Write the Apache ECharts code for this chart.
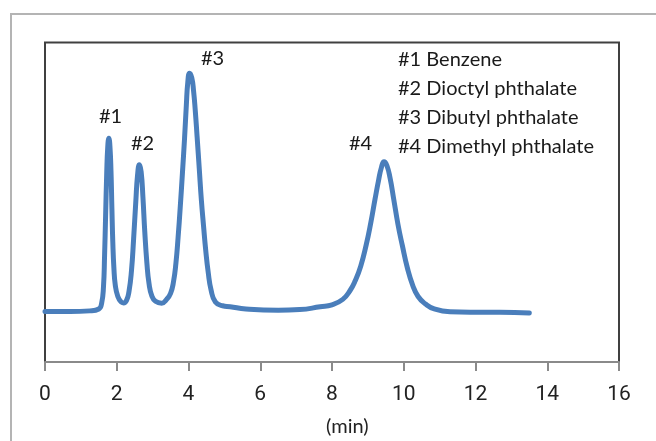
<!DOCTYPE html>
<html>
  <head>
    <meta charset="utf-8" />
    <title>Chromatogram</title>
    <script src="https://cdn.jsdelivr.net/npm/echarts@6/dist/echarts.min.js"></script>
  </head>
  <body style="margin:0;background:#fff;">
    <div id="main" style="width:656px;height:441px;"></div>
    <script type="text/javascript">
      // retention time (min)
      const time = [
        0, 0.7, 1.25, 1.5, 1.58, 1.63, 1.66, 1.69, 1.72, 1.75, 1.78, 1.81, 1.84, 1.865, 1.89, 1.92, 1.96, 2.03, 2.12, 2.19,
        2.27, 2.34, 2.41, 2.47, 2.53, 2.58, 2.63, 2.68, 2.73, 2.78, 2.84, 2.9, 2.98, 3.08, 3.25,
        3.39, 3.5, 3.58, 3.65, 3.71, 3.77, 3.83, 3.89, 3.94, 3.98, 4.03,
        4.09, 4.14, 4.19, 4.24, 4.3, 4.36, 4.42, 4.48, 4.55, 4.63, 4.75, 4.95, 5.16,
        5.6, 6.5, 7.1, 7.67, 8.0, 8.3, 8.5, 8.65, 8.8, 8.95, 9.08, 9.2, 9.3, 9.38, 9.45,
        9.53, 9.62, 9.72, 9.84, 9.96, 10.1, 10.25, 10.4, 10.6, 10.85, 11.29, 11.85, 12.68, 13.5,
      ];
      // detector signal (arbitrary units, 0-100)
      const signal = [
        15.8, 15.8, 16.0, 16.6, 18.5, 23.5, 33.0, 46.0, 59.0, 67.5, 70.0, 67.5, 59.5, 48.0, 37.5, 29.5, 24.0, 20.5, 18.8, 18.5,
        19.2, 22.0, 28.5, 38.5, 50.0, 58.5, 61.7, 59.5, 51.5, 41.0, 31.0, 24.5, 20.6, 19.0, 18.4,
        19.6, 21.5, 25.0, 31.0, 39.0, 48.5, 59.0, 70.0, 80.5, 87.5, 90.4,
        89.0, 85.0, 78.5, 70.5, 60.5, 50.5, 42.5, 35.0, 28.0, 22.5, 18.8, 17.6, 17.3,
        16.6, 16.2, 16.4, 17.3, 17.9, 19.6, 22.3, 25.5, 30.0, 36.5, 43.5, 51.0, 57.0, 61.0, 62.7,
        61.5, 57.5, 51.0, 43.0, 36.5, 29.5, 24.0, 20.5, 18.2, 16.6, 15.7, 15.6, 15.6, 15.3,
      ];
      const xTicks = [0, 2, 4, 6, 8, 10, 12, 14, 16];
      const peakNames = ["#1", "#2", "#3", "#4"];
      const compounds = [
        "#1 Benzene",
        "#2 Dioctyl phthalate",
        "#3 Dibutyl phthalate",
        "#4 Dimethyl phthalate",
      ];

      const myChart = echarts.init(document.getElementById("main"));

      const labelFont = "Lato, 'Open Sans', sans-serif";
      const peakLabelPos = [[99, 107], [131, 134], [201, 49], [349, 134]];

      const graphic = [
        {
          type: "rect",
          shape: { x: 11, y: 14, width: 700, height: 500 },
          style: { fill: null, stroke: "#b4b4b4", lineWidth: 2 },
          silent: true,
        },
        {
          type: "text",
          left: 326,
          top: 417,
          style: { text: "(min)", font: "20px " + labelFont, fill: "#222" },
        },
      ];
      peakNames.forEach((n, i) => {
        graphic.push({
          type: "text",
          left: peakLabelPos[i][0],
          top: peakLabelPos[i][1],
          style: { text: n, font: "20px " + labelFont, fill: "#1a1a1a" },
        });
      });
      compounds.forEach((c, i) => {
        graphic.push({
          type: "text",
          left: 398,
          top: 50 + i * 29,
          style: { text: c, font: "20px " + labelFont, fill: "#1a1a1a" },
        });
      });

      const option = {
        animation: false,
        grid: {
          left: 45,
          right: 37,
          top: 42.5,
          bottom: 79,
          show: true,
          borderColor: "#404040",
          borderWidth: 2,
        },
        xAxis: {
          type: "value",
          min: xTicks[0],
          max: xTicks[xTicks.length - 1],
          interval: 2,
          splitLine: { show: false },
          axisLine: { lineStyle: { color: "#8a8a8a", width: 2 } },
          axisTick: { length: 9, lineStyle: { color: "#8a8a8a", width: 2 } },
          axisLabel: {
            margin: 22,
            color: "#222",
            fontSize: 21,
            fontFamily: "Roboto, sans-serif",
          },
        },
        yAxis: {
          type: "value",
          min: 0,
          max: 100,
          show: false,
        },
        series: [
          {
            type: "line",
            data: time.map((t, i) => [t, signal[i]]),
            smooth: 0.5,
            showSymbol: false,
            lineStyle: { color: "#4a7ebb", width: 5, join: "round", cap: "round" },
          },
        ],
        graphic: graphic,
      };
      myChart.setOption(option);
    </script>
  </body>
</html>
